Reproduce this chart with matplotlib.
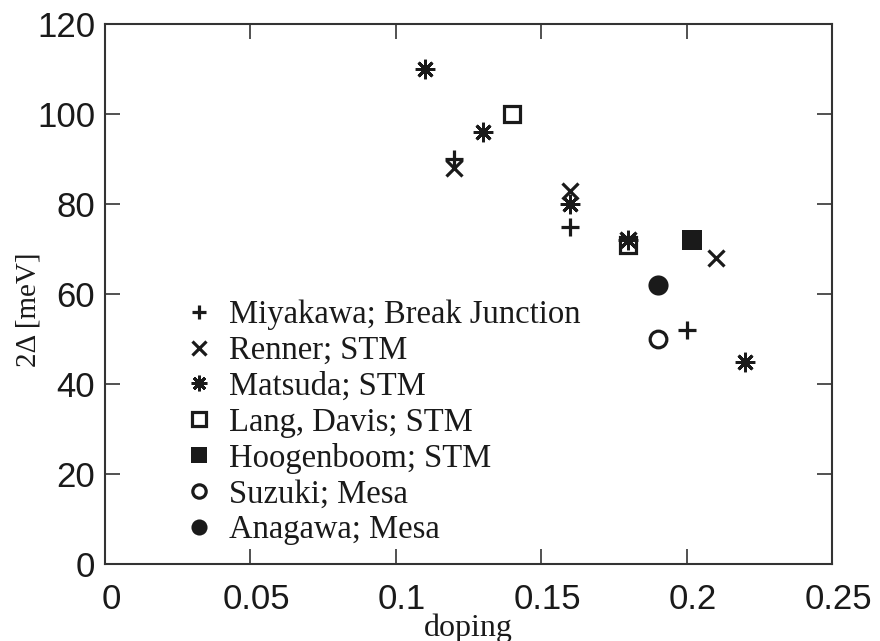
import matplotlib
matplotlib.use("Agg")
import matplotlib.pyplot as plt
from matplotlib.transforms import ScaledTranslation

# Data
miyakawa_x = [0.12, 0.16, 0.20]
miyakawa_y = [90, 75, 52]
renner_x = [0.12, 0.16, 0.18, 0.21]
renner_y = [88, 83, 72, 68]
matsuda_x = [0.11, 0.13, 0.16, 0.18, 0.22]
matsuda_y = [110, 96, 80, 72, 45]
lang_x = [0.14, 0.18]
lang_y = [100, 71]
hoog_x = [0.202]
hoog_y = [72]
suzuki_x = [0.19]
suzuki_y = [50]
anagawa_x = [0.19]
anagawa_y = [62]

x_ticks = [0, 0.05, 0.1, 0.15, 0.2, 0.25]
x_ticklabels = ["0", "0.05", "0.1", "0.15", "0.2", "0.25"]
y_ticks = [0, 20, 40, 60, 80, 100, 120]

serif = ["Liberation Serif", "DejaVu Serif"]
sans = ["Liberation Sans", "DejaVu Sans"]

fig = plt.figure(figsize=(8.8, 6.41), dpi=100)
ax = fig.add_axes([105/880, 77/641, 727/880, 540/641])

mew = 2.3
c = "#1a1a1a"
ax.plot(miyakawa_x, miyakawa_y, ls="none", marker="+", ms=13, mew=mew, color=c,
        label="Miyakawa; Break Junction")
ax.plot(renner_x, renner_y, ls="none", marker="x", ms=12, mew=mew, color=c,
        label="Renner; STM")
ax.plot(matsuda_x, matsuda_y, ls="none", marker=(8, 2, 0), ms=14, mew=2.1, color=c,
        label="Matsuda; STM")
ax.plot(lang_x, lang_y, ls="none", marker="s", ms=12, mew=mew, mfc="none", mec=c,
        label="Lang, Davis; STM")
ax.plot(hoog_x, hoog_y, ls="none", marker="s", ms=14, mew=0, color=c,
        label="Hoogenboom; STM")
ax.plot(suzuki_x, suzuki_y, ls="none", marker="o", ms=12, mew=mew, mfc="none", mec=c,
        label="Suzuki; Mesa")
ax.plot(anagawa_x, anagawa_y, ls="none", marker="o", ms=14.5, mew=0, color=c,
        label="Anagawa; Mesa")

ax.set_xlim(0, 0.25)
ax.set_ylim(0, 120)
ax.set_xticks(x_ticks)
ax.set_xticklabels(x_ticklabels)
ax.set_yticks(y_ticks)

for s in ax.spines.values():
    s.set_linewidth(1.5)
    s.set_color("#333333")

ax.tick_params(direction="in", length=11, width=1.2, color="#333333",
               top=True, right=True, labelsize=25, pad=14)
ax.tick_params(axis="y", pad=7)
for lab in ax.get_xticklabels() + ax.get_yticklabels():
    lab.set_fontfamily(sans)
    lab.set_color("#1a1a1a")
off = ScaledTranslation(6/100, 0, fig.dpi_scale_trans)
for lab in ax.get_xticklabels():
    lab.set_transform(lab.get_transform() + off)

ax.set_xlabel("doping", fontfamily=serif, fontsize=23, labelpad=0, color="#1a1a1a")
ax.xaxis.set_label_coords(0.5, -0.091)
ax.set_ylabel("2Δ [meV]", fontfamily=serif, fontsize=21, color="#1a1a1a")
ax.yaxis.set_label_coords(-0.088, 0.47)

leg = ax.legend(loc="upper left", bbox_to_anchor=(0.112, 0.489), frameon=False,
                prop={"family": serif, "size": 23.5}, markerscale=0.8,
                handlelength=0.8, handletextpad=0.5, labelspacing=0.16,
                borderaxespad=0, borderpad=0)
for t in leg.get_texts():
    t.set_color("#1a1a1a")

fig.savefig("out.png", dpi=100)
